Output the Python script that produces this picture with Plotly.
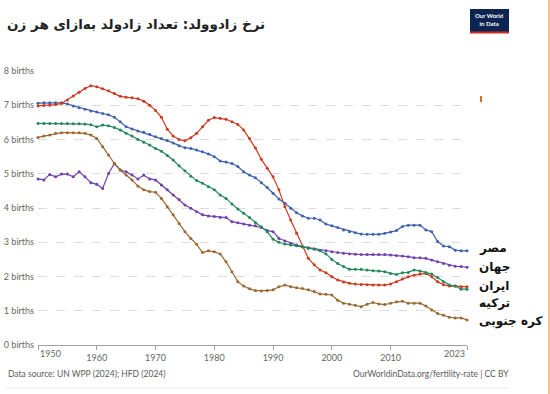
import plotly.graph_objects as go

years = list(range(1950, 2024))

egypt = [7.06, 7.07, 7.07, 7.07, 7.07, 7.04, 6.98, 6.93, 6.88, 6.83,
         6.80, 6.76, 6.72, 6.65, 6.52, 6.37, 6.31, 6.25, 6.21, 6.15,
         6.08, 6.03, 5.97, 5.90, 5.82, 5.76, 5.74, 5.69, 5.64, 5.58,
         5.50, 5.37, 5.34, 5.30, 5.21, 5.06, 4.96, 4.88, 4.74, 4.60,
         4.43, 4.26, 4.14, 3.99, 3.86, 3.77, 3.70, 3.70, 3.65, 3.53,
         3.48, 3.43, 3.36, 3.31, 3.28, 3.24, 3.23, 3.23, 3.23, 3.26,
         3.30, 3.34, 3.46, 3.50, 3.50, 3.50, 3.36, 3.31, 3.02, 2.89,
         2.87, 2.77, 2.75, 2.75]

world = [4.85, 4.82, 4.98, 4.91, 4.99, 4.99, 4.91, 5.06, 4.91, 4.74,
         4.69, 4.57, 5.01, 5.30, 5.11, 5.06, 4.96, 4.85, 4.96, 4.85,
         4.82, 4.67, 4.53, 4.38, 4.25, 4.09, 3.99, 3.89, 3.80, 3.77,
         3.75, 3.72, 3.72, 3.60, 3.57, 3.53, 3.50, 3.48, 3.43, 3.34,
         3.31, 3.11, 3.04, 2.97, 2.92, 2.87, 2.84, 2.80, 2.77, 2.75,
         2.72, 2.70, 2.68, 2.66, 2.65, 2.64, 2.64, 2.64, 2.64, 2.64,
         2.63, 2.61, 2.60, 2.58, 2.55, 2.55, 2.53, 2.48, 2.43, 2.38,
         2.33, 2.30, 2.29, 2.27]

iran = [6.98, 6.99, 7.00, 7.02, 7.05, 7.15, 7.27, 7.38, 7.49, 7.57,
        7.54, 7.48, 7.42, 7.34, 7.26, 7.23, 7.22, 7.19, 7.12, 7.00,
        6.85, 6.65, 6.30, 6.10, 6.00, 5.96, 6.05, 6.18, 6.37, 6.56,
        6.64, 6.62, 6.59, 6.52, 6.44, 6.28, 6.03, 5.75, 5.42, 5.16,
        4.91, 4.53, 4.04, 3.65, 3.26, 2.87, 2.53, 2.34, 2.19, 2.11,
        1.99, 1.90, 1.84, 1.80, 1.78, 1.77, 1.76, 1.75, 1.75, 1.75,
        1.78, 1.85, 1.93, 1.99, 2.04, 2.07, 2.09, 1.99, 1.85, 1.76,
        1.72, 1.72, 1.70, 1.70]

turkey = [6.47, 6.47, 6.47, 6.47, 6.47, 6.47, 6.46, 6.46, 6.45, 6.43,
          6.37, 6.42, 6.40, 6.35, 6.28, 6.18, 6.10, 6.00, 5.92, 5.84,
          5.74, 5.66, 5.53, 5.40, 5.23, 5.09, 4.93, 4.80, 4.72, 4.62,
          4.53, 4.38, 4.28, 4.12, 3.97, 3.85, 3.72, 3.57, 3.45, 3.31,
          3.09, 3.00, 2.95, 2.92, 2.90, 2.87, 2.82, 2.80, 2.75, 2.66,
          2.50, 2.38, 2.29, 2.21, 2.21, 2.21, 2.19, 2.17, 2.16, 2.14,
          2.09, 2.06, 2.11, 2.12, 2.19, 2.16, 2.12, 2.07, 1.97, 1.85,
          1.75, 1.72, 1.63, 1.63]

korea = [6.06, 6.10, 6.13, 6.18, 6.20, 6.20, 6.20, 6.20, 6.18, 6.13,
         6.03, 5.79, 5.55, 5.30, 5.11, 4.96, 4.82, 4.64, 4.53, 4.48,
         4.46, 4.28, 4.04, 3.80, 3.55, 3.31, 3.11, 2.94, 2.70, 2.75,
         2.72, 2.66, 2.43, 2.14, 1.85, 1.72, 1.64, 1.59, 1.58, 1.59,
         1.61, 1.70, 1.75, 1.70, 1.67, 1.65, 1.61, 1.56, 1.49, 1.48,
         1.46, 1.31, 1.22, 1.19, 1.16, 1.12, 1.19, 1.24, 1.20, 1.18,
         1.22, 1.26, 1.28, 1.22, 1.22, 1.22, 1.14, 1.02, 0.92, 0.87,
         0.81, 0.79, 0.79, 0.73]

series_names = ["مصر", "جهان", "ایران", "ترکیه", "کره جنوبی"]
series_values = [egypt, world, iran, turkey, korea]
series_colors = ["#3e62ad", "#7040ab", "#cc3a1e", "#24875a", "#9c6730"]
label_y_px = [248, 267, 286, 303, 321]

y_ticks = list(range(0, 9))
y_ticktext = [f"{v} births" for v in y_ticks]
x_ticks = [1950, 1960, 1970, 1980, 1990, 2000, 2010, 2023]

title_text = "نرخ زادوولد: تعداد زادولد به‌ازای هر زن"
source_text = "Data source: UN WPP (2024); HFD (2024)"
url_text = "OurWorldinData.org/fertility-rate | CC BY"

W, H = 550, 394
PW, PH = 429, 274
L, T = 38, 71
R = W - L - PW
B = H - T - PH


def px_x(sx):
    return (sx - L) / PW


def px_y(sy):
    return (H - B - sy) / PH


FONT = "Lato, 'DejaVu Sans', sans-serif"
AR_FONT = "'DejaVu Sans', 'Noto Sans', sans-serif"

fig = go.Figure()
for name, vals, col in zip(series_names, series_values, series_colors):
    fig.add_trace(go.Scatter(
        x=years, y=vals, name=name, mode="lines+markers",
        line=dict(color=col, width=1.2),
        marker=dict(color=col, size=3),
        cliponaxis=False, showlegend=False,
    ))

annotations = []
for name, col, ly in zip(series_names, series_colors, label_y_px):
    annotations.append(dict(
        x=px_x(477), y=px_y(ly), xref="paper", yref="paper",
        text=f"<b>{name}</b>", showarrow=False, xanchor="left", yanchor="middle",
        font=dict(family=AR_FONT, size=12, color="#111"),
    ))

# edge year labels aligned like the original
annotations.append(dict(x=1950, y=px_y(353), xref="x", yref="paper", text="1950",
                        showarrow=False, xanchor="left", yanchor="middle",
                        font=dict(family=FONT, size=9, color="#666")))
annotations.append(dict(x=2023, y=px_y(353), xref="x", yref="paper", text="2023",
                        showarrow=False, xanchor="right", yanchor="middle",
                        font=dict(family=FONT, size=9, color="#666")))

annotations.append(dict(x=px_x(5), y=px_y(24), xref="paper", yref="paper",
                        text=f"<b>{title_text}</b>", showarrow=False,
                        xanchor="left", yanchor="middle",
                        font=dict(family=AR_FONT, size=13.5, color="#222")))
annotations.append(dict(x=px_x(6), y=px_y(374), xref="paper", yref="paper",
                        text=source_text, showarrow=False,
                        xanchor="left", yanchor="middle",
                        font=dict(family=FONT, size=8.5, color="#5b5b5b")))
annotations.append(dict(x=px_x(511), y=px_y(374), xref="paper", yref="paper",
                        text=url_text, showarrow=False,
                        xanchor="right", yanchor="middle",
                        font=dict(family=FONT, size=8.5, color="#5b5b5b")))
annotations.append(dict(x=px_x(489.5), y=px_y(20), xref="paper", yref="paper",
                        text="<b>Our World<br>in Data</b>", showarrow=False,
                        xanchor="center", yanchor="middle",
                        font=dict(family=FONT, size=6, color="white")))

shapes = [
    dict(type="rect", xref="paper", yref="paper", x0=px_x(470), x1=px_x(509),
         y0=px_y(33), y1=px_y(9), fillcolor="#0b2450", line=dict(width=0), layer="below"),
    dict(type="rect", xref="paper", yref="paper", x0=px_x(470), x1=px_x(509),
         y0=px_y(33.5), y1=px_y(31.5), fillcolor="#d42b21", line=dict(width=0)),
    dict(type="line", xref="paper", yref="paper", x0=px_x(6), x1=px_x(510),
         y0=px_y(388), y1=px_y(388), line=dict(color="#ececec", width=1)),
    dict(type="rect", xref="paper", yref="paper", x0=px_x(480), x1=px_x(482),
         y0=px_y(102), y1=px_y(96), fillcolor="#e06a1c", line=dict(width=0)),
    dict(type="line", xref="paper", yref="paper", x0=px_x(549), x1=px_x(549),
         y0=px_y(0), y1=px_y(394), line=dict(color="#f2aa70", width=1.5)),
]

fig.update_layout(
    width=W, height=H,
    margin=dict(l=L, r=R, t=T, b=B, pad=0, autoexpand=False),
    paper_bgcolor="white", plot_bgcolor="white",
    font=dict(family=FONT, size=9, color="#666"),
    annotations=annotations, shapes=shapes,
    xaxis=dict(
        range=[1950, 2023], tickvals=x_ticks, automargin=False,
        ticktext=[""] + [str(v) for v in x_ticks[1:-1]] + [""],
        showgrid=False, zeroline=False, showline=True, linecolor="#a0a0a0",
        linewidth=1, ticks="outside", ticklen=4, tickcolor="#a0a0a0",
        tickfont=dict(family=FONT, size=9, color="#666"),
    ),
    yaxis=dict(
        range=[0, 8], tickvals=y_ticks, ticktext=y_ticktext, automargin=False,
        showgrid=True, gridcolor="#dcdcdc", griddash="dash", gridwidth=1,
        zeroline=False, showline=False, ticks="", ticklabelstandoff=3,
        tickfont=dict(family=FONT, size=9, color="#666"),
    ),
)

fig.write_html("out.html", config={"displayModeBar": False},
               post_script="document.body.style.margin='0';document.body.style.padding='0';")
